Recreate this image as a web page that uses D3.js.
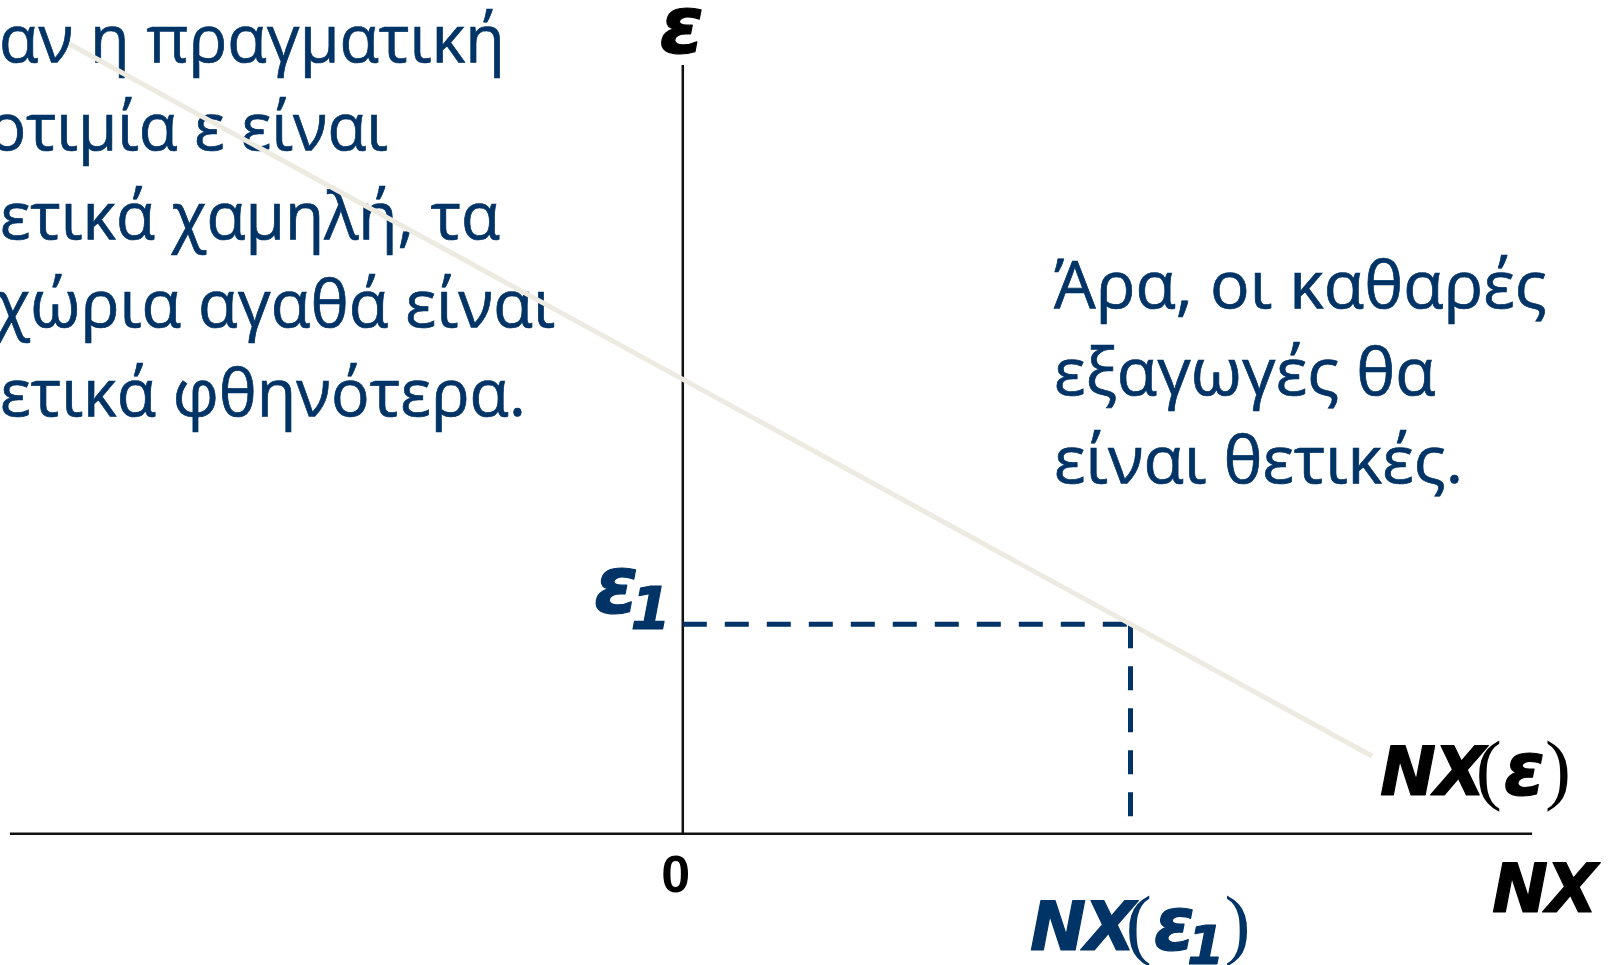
<!DOCTYPE html>
<html>
<head>
<meta charset="utf-8">
<script src="https://cdn.jsdelivr.net/npm/d3@7/dist/d3.min.js"></script>
<style>
  html, body { margin: 0; padding: 0; background: #ffffff; overflow: hidden; }
  svg { display: block; }
</style>
</head>
<body>
<svg id="chart" width="1610" height="965"></svg>
<script>
// ---- data ----
const nxCurve = [-1.37, 1.54];     // NX values of the NX(ε) line end points
const epsCurve = [3.77, 0.37];     // ε values of the NX(ε) line end points
const nx1 = 1;                     // NX(ε1)
const eps1 = 1;                    // ε1
const nxAxisRange = [-1.503, 1.897];
const epsAxisRange = [0, 3.67];
const leftLines = ["Όταν η πραγματική", "ισοτιμία ε είναι", "σχετικά χαμηλή, τα", "εγχώρια αγαθά είναι", "σχετικά φθηνότερα."];
const rightLines = ["Άρα, οι καθαρές", "εξαγωγές θα", "είναι θετικές."];

// ---- layout (text block cut off by the left page edge) ----
const leftCut = [2, 2, 2, 2, 2];                 // characters hidden beyond the left edge
const leftVisibleStart = [-1, -12, 0, -5, 0];     // px where the first visible glyph begins
const leftVisibleEnd = [505, 388, 500, 555, 526]; // px where each line ends

// ---- setup ----
const svg = d3.select("#chart");
const BLUE = "#003366";
const x = d3.scaleLinear().domain([0, 1]).range([682.8, 1130.5]);
const y = d3.scaleLinear().domain([0, 1]).range([833.8, 624.3]);
const LAB = "'DejaVu Sans', Verdana, sans-serif";
const TXT = "'Open Sans', 'Noto Sans', sans-serif";
const FS = 66;

function textWidth(s) {
  const t = svg.append("text").attr("font-family", TXT).attr("font-size", FS).text(s);
  const w = t.node().getComputedTextLength();
  t.remove();
  return w;
}

// ---- left explanatory text ----
const left = svg.append("g");
leftLines.forEach((line, i) => {
  const pre = textWidth(line.slice(0, leftCut[i]));
  const rest = textWidth(line.slice(leftCut[i]));
  const sx = (leftVisibleEnd[i] - leftVisibleStart[i]) / rest;
  left.append("g")
    .attr("transform", `translate(${leftVisibleStart[i]},${62 + i * 88.4}) scale(${sx},1)`)
    .append("text")
    .attr("x", -pre).attr("y", 0)
    .attr("font-family", TXT).attr("font-size", FS)
    .attr("fill", BLUE).attr("stroke", BLUE).attr("stroke-width", 0.7)
    .text(line);
});

// ---- right explanatory text ----
const right = svg.append("g").attr("fill", BLUE).attr("stroke", BLUE).attr("stroke-width", 0.7)
  .attr("font-family", TXT).attr("font-size", FS);
right.selectAll("text").data(rightLines).join("text")
  .attr("x", 1054)
  .attr("y", (d, i) => 308 + i * 87.3)
  .text(d => d);

// ---- axes ----
svg.append("line")
  .attr("x1", x(nxAxisRange[0])).attr("x2", x(nxAxisRange[1]))
  .attr("y1", y(0)).attr("y2", y(0))
  .attr("stroke", "#111").attr("stroke-width", 2.5);
svg.append("line")
  .attr("x1", x(0)).attr("x2", x(0))
  .attr("y1", y(epsAxisRange[0])).attr("y2", y(epsAxisRange[1]))
  .attr("stroke", "#111").attr("stroke-width", 2.5);

// ---- dashed guides ----
svg.append("line")
  .attr("x1", x(0)).attr("x2", x(nx1))
  .attr("y1", y(eps1)).attr("y2", y(eps1))
  .attr("stroke", BLUE).attr("stroke-width", 5).attr("stroke-dasharray", "24,18");
svg.append("line")
  .attr("x1", x(nx1)).attr("x2", x(nx1))
  .attr("y1", y(eps1)).attr("y2", y(0))
  .attr("stroke", BLUE).attr("stroke-width", 5).attr("stroke-dasharray", "24,18");

// ---- NX(ε) line ----
const pts = nxCurve.map((v, i) => [v, epsCurve[i]]);
svg.append("path")
  .attr("d", d3.line().x(d => x(d[0])).y(d => y(d[1]))(pts))
  .attr("fill", "none").attr("stroke", "#EDEBE1").attr("stroke-width", 5);

// ---- labels ----
function bold(sel, color) {
  return sel.attr("font-family", LAB).attr("font-weight", "bold").attr("font-style", "italic")
    .attr("fill", color).attr("stroke", color).attr("stroke-width", 1.2).attr("stroke-linejoin", "round");
}
// ε axis label
bold(svg.append("text"), "#000").attr("x", x(0) - 1).attr("y", 53).attr("text-anchor", "middle")
  .attr("font-size", 80).text("ε");

// 0 label
svg.append("text").attr("x", x(0) - 7).attr("y", 892).attr("text-anchor", "middle")
  .attr("font-family", "'Liberation Sans', Arial, sans-serif").attr("font-weight", "bold")
  .attr("font-size", 52).attr("fill", "#000").text("0");

// NX axis label
bold(svg.append("text"), "#000").attr("x", 1492).attr("y", 912)
  .attr("font-size", 67).attr("letter-spacing", -2).text("NX");

// ε1 label
const e1 = bold(svg.append("text"), BLUE).attr("x", 594).attr("y", y(eps1) - 11);
e1.append("tspan").attr("font-size", 80).text("ε");
e1.append("tspan").attr("font-size", 58).attr("dx", -8).attr("dy", 16).text("1");

// NX(ε) curve label
function nxLabel(xp, yp, color, sub) {
  const t = bold(svg.append("text"), color).attr("x", xp).attr("y", yp);
  t.append("tspan").attr("font-size", 67).attr("letter-spacing", -2).text("NX");
  t.append("tspan").attr("font-size", 78).attr("dx", -8).attr("stroke-width", 0)
    .attr("font-family", "'Liberation Serif', serif").attr("font-weight", "normal").attr("font-style", "normal").text("(");
  t.append("tspan").attr("font-size", 74).attr("dx", 2).text("ε");
  if (sub) t.append("tspan").attr("font-size", 54).attr("dx", -8).attr("dy", 14).text(sub);
  t.append("tspan").attr("font-size", 78).attr("dx", 0).attr("dy", sub ? -14 : 0).attr("stroke-width", 0)
    .attr("font-family", "'Liberation Serif', serif").attr("font-weight", "normal").attr("font-style", "normal").text(")");
}
nxLabel(1380, 795, "#000", null);
nxLabel(1030, 950, BLUE, "1");
</script>
</body>
</html>
